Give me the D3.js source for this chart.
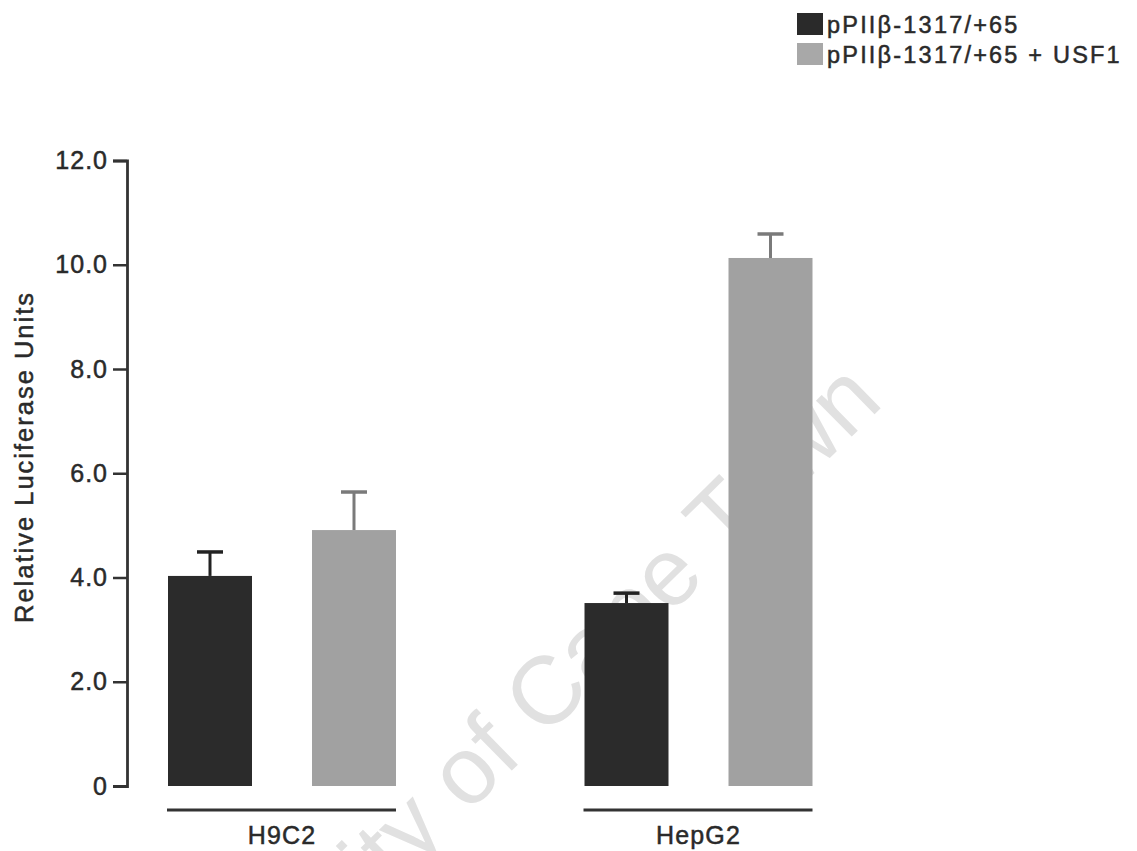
<!DOCTYPE html>
<html>
<head>
<meta charset="utf-8">
<script src="https://cdn.jsdelivr.net/npm/d3@7"></script>
<style>
  html, body { margin: 0; padding: 0; background: #fff; }
  svg { display: block; font-family: "Liberation Sans", Arial, sans-serif; }
  .lbl { stroke: #2a2a2a; stroke-width: 0.5; }
</style>
</head>
<body>
<svg id="chart" width="1137" height="851"></svg>
<script>
// cell lines and constructs
const groups = ["H9C2", "HepG2"];
const seriesNames = ["pPIIβ-1317/+65", "pPIIβ-1317/+65 + USF1"];

// mean luciferase units per group, one array per series
const basalValues = [4.03, 3.51];
const usf1Values = [4.91, 10.13];
// upper error (SEM) per group
const basalErrors = [0.46, 0.19];
const usf1Errors = [0.73, 0.46];

const yTicks = [0, 2, 4, 6, 8, 10, 12];
const yTickLabels = ["0", "2.0", "4.0", "6.0", "8.0", "10.0", "12.0"];

const barColors = ["#2b2b2b", "#a1a1a1"];
const errColors = ["#222", "#7a7a7a"];

const rows = groups.flatMap((g, i) => [
  { group: g, series: 0, value: basalValues[i], err: basalErrors[i] },
  { group: g, series: 1, value: usf1Values[i], err: usf1Errors[i] },
]);

const svg = d3.select("#chart");

const y = d3.scaleLinear().domain([0, 12]).range([786, 160.5]);
const x0 = d3.scaleBand().domain(groups).range([168, 812.5]).paddingInner(0.4526);
const x1 = d3.scaleBand().domain([0, 1]).range([0, x0.bandwidth()]).paddingInner(0.4167);

// watermark, sits behind the bars
svg.append("text")
  .attr("transform", "translate(148,1128) rotate(-44.5)")
  .attr("font-size", 96)
  .attr("fill", "#e1e1e1")
  .text("University of Cape Town");

// y axis
const yAxis = d3.axisLeft(y)
  .tickValues(yTicks)
  .tickFormat((d, i) => yTickLabels[i])
  .tickSize(14)
  .tickPadding(5);

const gy = svg.append("g")
  .attr("transform", "translate(127,0)")
  .call(yAxis);
gy.select(".domain").attr("stroke", "#333").attr("stroke-width", 2.8);
gy.selectAll(".tick line").attr("stroke", "#333").attr("stroke-width", 2.5);
gy.selectAll(".tick text")
  .attr("class", "lbl")
  .attr("font-size", 25)
  .attr("letter-spacing", 1)
  .attr("fill", "#2a2a2a")
  .attr("font-family", "Liberation Sans, Arial, sans-serif");

svg.append("text")
  .attr("class", "lbl")
  .attr("transform", "translate(33,457) rotate(-90)")
  .attr("text-anchor", "middle")
  .attr("font-size", 25.5)
  .attr("letter-spacing", 2)
  .attr("fill", "#2a2a2a")
  .text("Relative Luciferase Units");

// bars
const barG = svg.append("g");
barG.selectAll("rect")
  .data(rows)
  .join("rect")
  .attr("x", (d) => x0(d.group) + x1(d.series))
  .attr("y", (d) => y(d.value))
  .attr("width", x1.bandwidth())
  .attr("height", (d) => y(0) - y(d.value))
  .attr("fill", (d) => barColors[d.series]);

// error bars (upper only)
const errG = svg.append("g");
errG.selectAll("line.stem")
  .data(rows)
  .join("line")
  .attr("class", "stem")
  .attr("x1", (d) => x0(d.group) + x1(d.series) + x1.bandwidth() / 2)
  .attr("x2", (d) => x0(d.group) + x1(d.series) + x1.bandwidth() / 2)
  .attr("y1", (d) => y(d.value))
  .attr("y2", (d) => y(d.value + d.err))
  .attr("stroke", (d) => errColors[d.series])
  .attr("stroke-width", 3);
errG.selectAll("line.cap")
  .data(rows)
  .join("line")
  .attr("class", "cap")
  .attr("x1", (d) => x0(d.group) + x1(d.series) + x1.bandwidth() / 2 - 13)
  .attr("x2", (d) => x0(d.group) + x1(d.series) + x1.bandwidth() / 2 + 13)
  .attr("y1", (d) => y(d.value + d.err))
  .attr("y2", (d) => y(d.value + d.err))
  .attr("stroke", (d) => errColors[d.series])
  .attr("stroke-width", 3.5);

// group underlines and labels
const grpG = svg.append("g");
grpG.selectAll("line")
  .data(groups)
  .join("line")
  .attr("x1", (d) => x0(d) - 1)
  .attr("x2", (d) => x0(d) + x0.bandwidth())
  .attr("y1", 810)
  .attr("y2", 810)
  .attr("stroke", "#333")
  .attr("stroke-width", 3);
grpG.selectAll("text")
  .data(groups)
  .join("text")
  .attr("class", "lbl")
  .attr("x", (d) => x0(d) + x0.bandwidth() / 2)
  .attr("y", 844)
  .attr("text-anchor", "middle")
  .attr("font-size", 25)
  .attr("letter-spacing", 1.2)
  .attr("fill", "#2a2a2a")
  .text((d) => d);

// legend
const legend = svg.append("g").attr("transform", "translate(797,13)");
const item = legend.selectAll("g")
  .data(seriesNames)
  .join("g")
  .attr("transform", (d, i) => `translate(0,${i * 30})`);
item.append("rect")
  .attr("width", 26)
  .attr("height", 22)
  .attr("fill", (d, i) => (i === 0 ? "#2a2a2a" : "#a8a8a8"));
item.append("text")
  .attr("class", "lbl")
  .attr("x", 30)
  .attr("y", 20)
  .attr("font-size", 23.5)
  .attr("letter-spacing", 2.2)
  .attr("fill", "#2a2a2a")
  .text((d) => d);
</script>
</body>
</html>
